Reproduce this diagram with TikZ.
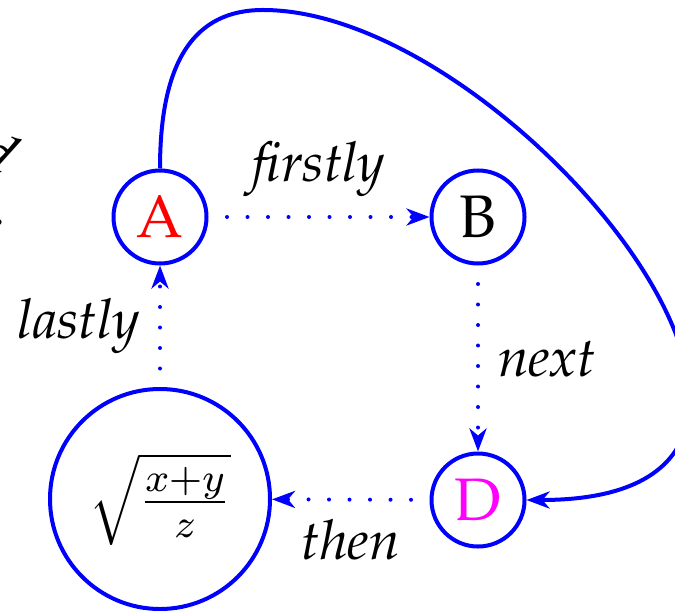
\documentclass[tikz,border=0pt]{standalone}
\usepackage[T1]{fontenc}
\renewcommand{\rmdefault}{ppl}
\usetikzlibrary{arrows.meta}
\definecolor{pureblue}{RGB}{0,0,255}
\definecolor{purered}{RGB}{255,0,0}
\definecolor{puremag}{RGB}{255,0,255}
\tikzset{
  vtx/.style={circle, draw=pureblue, thick, inner sep=0pt, minimum size=18.6pt, font=\fontsize{12}{14}\selectfont},
  big/.style={vtx, minimum size=44pt},
  flow/.style={draw=pureblue, thick, line cap=round, dash pattern=on 0pt off 4.1pt, dash phase=0.4pt,
    -{Stealth[length=4.6pt, width=3.4pt, inset=1.4pt]}},
  loop/.style={draw=pureblue, thick, -{Stealth[length=4.6pt, width=3.4pt, inset=1.4pt]}},
  lab/.style={font=\fontsize{11}{13}\selectfont\itshape, inner sep=3.6pt},
  fragtext/.style={font=\fontsize{12}{14}\selectfont\itshape, rotate=-30, anchor=base east, inner sep=0pt}
}
\begin{document}
\begin{tikzpicture}[x=0.2pt, y=-0.2pt]
\useasboundingbox (0,0) rectangle (675,610);
\node[fragtext] (frag) at (2,179) {d};
\node[fragtext] (frag2) at (5,231) {.};
\node[vtx, text=purered] (A) at (160,217) {A};
\node[vtx] (B) at (478,217) {B};
\node[vtx, text=puremag] (D) at (478,500) {D};
\node[big] (S) at (160,499) {$\sqrt{\frac{x+y}{z}}$};
\draw[flow] (A) -- node[lab, midway, above] (l1) {firstly} (B);
\draw[flow] (B) -- node[lab, midway, right] (l2) {next} (D);
\draw[flow] (D) -- node[lab, midway, below] (l3) {then} (S);
\draw[flow] (S) -- node[lab, midway, left] (l4) {lastly} (A);
\draw[loop] (A.north) .. controls (160,60) and (195,10) .. (263,10)
  .. controls (513,10) and (907,500) .. (D.east);
\end{tikzpicture}
\end{document}
